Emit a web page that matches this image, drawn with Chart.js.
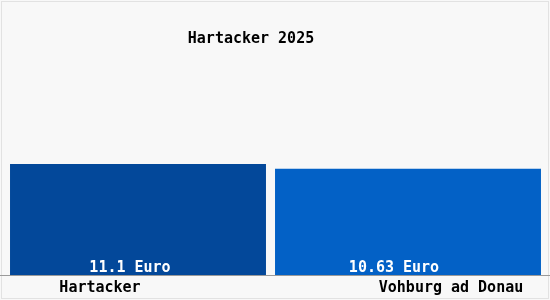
<!DOCTYPE html>
<html>
<head>
<meta charset="utf-8">
<title>Hartacker 2025</title>
<script src="https://cdn.jsdelivr.net/npm/chart.js"></script>
<style>
  html, body { margin: 0; padding: 0; background: #f8f8f8; }
  #wrap { width: 550px; height: 300px; }
</style>
</head>
<body>
<div id="wrap"><canvas id="priceChart" width="550" height="300"></canvas></div>
<script>
const chartTitle = "Hartacker 2025";
const places = ["Hartacker", "Vohburg ad Donau"];
const prices = [11.1, 10.63];
const valueLabels = ["11.1 Euro", "10.63 Euro"];
const barColors = ["#03489a", "#0361c6"];

const FONT = 'bold 15px "DejaVu Sans Mono", monospace';
// nudges so the text sits where it does in the picture
const valueShift = [-8, -14];
const nameShift = [-38, 43];

const textPlugin = {
  id: 'textPlugin',
  beforeDraw(chart) {
    const ctx = chart.ctx;
    ctx.save();
    ctx.fillStyle = '#f8f8f8';
    ctx.fillRect(0, 0, chart.width, chart.height);
    ctx.strokeStyle = '#e2e2e2';
    ctx.lineWidth = 1;
    ctx.strokeRect(1.5, 1.5, chart.width - 3, chart.height - 3);
    ctx.restore();
  },
  afterDatasetsDraw(chart) {
    const ctx = chart.ctx;
    const area = chart.chartArea;
    ctx.save();
    ctx.font = FONT;
    ctx.textAlign = 'center';
    ctx.textBaseline = 'middle';

    // baseline
    ctx.strokeStyle = '#9a9a9a';
    ctx.lineWidth = 1;
    ctx.beginPath();
    ctx.moveTo(0, area.bottom + 0.5);
    ctx.lineTo(chart.width, area.bottom + 0.5);
    ctx.stroke();

    places.forEach((name, i) => {
      const bar = chart.getDatasetMeta(i).data[i];
      ctx.fillStyle = '#ffffff';
      ctx.fillText(valueLabels[i], bar.x + valueShift[i], area.bottom - 7);
      ctx.fillStyle = '#000000';
      ctx.fillText(name, bar.x + nameShift[i], area.bottom + 13);
    });

    ctx.fillStyle = '#000000';
    ctx.fillText(chartTitle, 251, 39);
    ctx.restore();
  }
};

// one dataset per place so each bar can keep its own width
const datasets = places.map((name, i) => ({
  label: name,
  data: prices.map((v, j) => (j === i ? v : null)),
  backgroundColor: barColors[i],
  borderWidth: 0,
  barPercentage: i === 0 ? 0.948 : 0.985,
  categoryPercentage: 1.0
}));

new Chart(document.getElementById('priceChart'), {
  type: 'bar',
  data: { labels: places, datasets: datasets },
  options: {
    responsive: false,
    animation: false,
    layout: { padding: { left: 3, right: 7, top: 55, bottom: 25 } },
    plugins: {
      legend: { display: false },
      title: { display: false },
      tooltip: { enabled: false }
    },
    scales: {
      x: { display: false, stacked: true },
      y: { display: false, stacked: true, min: 0, max: 22 }
    }
  },
  plugins: [textPlugin]
});
</script>
</body>
</html>
